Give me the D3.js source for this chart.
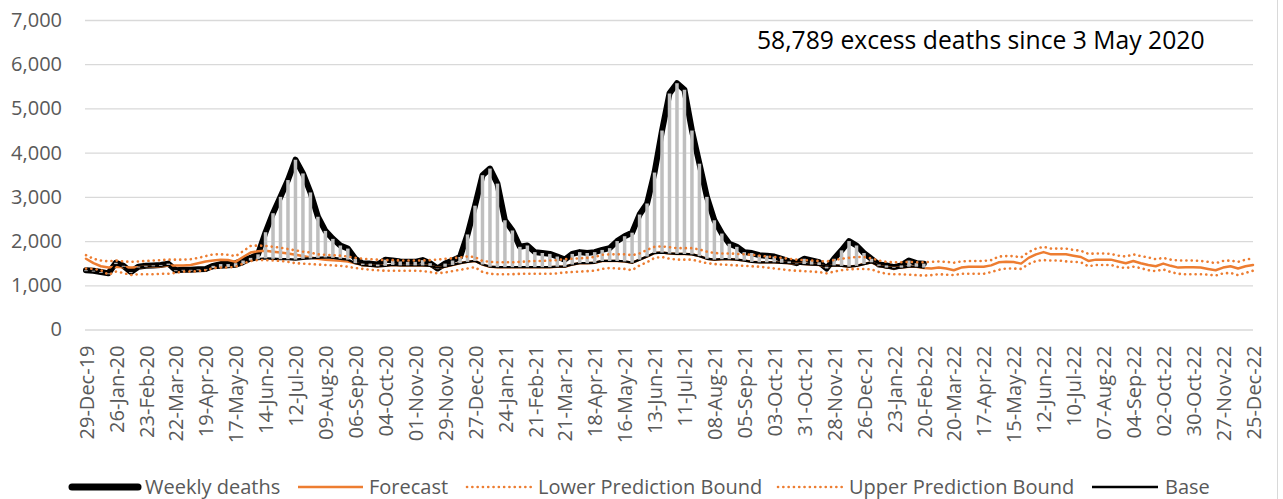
<!DOCTYPE html>
<html><head><meta charset="utf-8">
<script src="https://cdn.jsdelivr.net/npm/d3@7"></script>
<style>
html,body{margin:0;padding:0;background:#fff;}
svg{display:block;font-family:"Open Sans",sans-serif;}
</style></head><body>
<svg id="chart" width="1283" height="499"></svg>
<script>
// ---------- data ----------
const tickLabels = ["29-Dec-19","26-Jan-20","23-Feb-20","22-Mar-20","19-Apr-20","17-May-20","14-Jun-20","12-Jul-20","09-Aug-20","06-Sep-20","04-Oct-20","01-Nov-20","29-Nov-20","27-Dec-20","24-Jan-21","21-Feb-21","21-Mar-21","18-Apr-21","16-May-21","13-Jun-21","11-Jul-21","08-Aug-21","05-Sep-21","03-Oct-21","31-Oct-21","28-Nov-21","26-Dec-21","23-Jan-22","20-Feb-22","20-Mar-22","17-Apr-22","15-May-22","12-Jun-22","10-Jul-22","07-Aug-22","04-Sep-22","02-Oct-22","30-Oct-22","27-Nov-22","25-Dec-22"];
const yTicks = [0,1000,2000,3000,4000,5000,6000,7000];

const weeklyDeaths = [
 1340,1330,1300,1270,1510,1440,1300,1420,1440,1450,
 1460,1490,1340,1350,1350,1360,1370,1440,1480,1480,
 1500,1560,1620,1700,2200,2630,3000,3380,3840,3530,
 3100,2550,2230,2050,1900,1830,1600,1490,1490,1470,
 1580,1560,1540,1530,1530,1570,1500,1380,1490,1560,
 1640,2150,2800,3490,3640,3300,2470,2240,1870,1900,
 1750,1730,1710,1650,1580,1710,1750,1730,1750,1800,
 1840,2000,2110,2190,2600,2850,3550,4500,5340,5570,
 5420,4500,3750,3000,2470,2170,1940,1870,1750,1730,
 1680,1670,1650,1600,1540,1500,1600,1560,1520,1380,
 1600,1790,2000,1900,1730,1600,1470,1450,1410,1450,
 1560,1500,1490];

const base = [
 1320,1310,1280,1250,1480,1420,1280,1400,1420,1430,
 1440,1460,1320,1330,1330,1340,1350,1390,1400,1410,
 1420,1480,1560,1590,1610,1600,1590,1590,1580,1600,
 1610,1620,1630,1620,1600,1580,1500,1460,1440,1430,
 1440,1460,1450,1450,1450,1450,1440,1390,1420,1460,
 1500,1530,1550,1470,1420,1410,1410,1410,1410,1410,
 1410,1410,1410,1420,1420,1470,1500,1500,1510,1550,
 1550,1550,1540,1510,1580,1650,1730,1740,1720,1710,
 1710,1700,1660,1600,1580,1590,1590,1580,1560,1530,
 1520,1520,1520,1510,1500,1490,1480,1470,1460,1420,
 1450,1440,1420,1440,1480,1520,1440,1400,1390,1400,
 1420,1420,1400];

const forecast = [
 1600,1500,1430,1400,1420,1410,1400,1410,1420,1420,
 1430,1440,1450,1450,1460,1500,1540,1560,1580,1570,
 1530,1640,1740,1770,1780,1760,1740,1720,1690,1660,
 1630,1600,1580,1565,1555,1535,1500,1460,1440,1430,
 1440,1460,1450,1450,1450,1450,1440,1390,1420,1460,
 1500,1530,1550,1470,1420,1410,1410,1410,1410,1410,
 1410,1410,1410,1420,1420,1470,1500,1500,1510,1550,
 1550,1550,1540,1510,1580,1650,1730,1740,1720,1710,
 1710,1700,1660,1600,1580,1590,1590,1580,1560,1530,
 1520,1520,1520,1510,1500,1490,1480,1470,1460,1420,
 1450,1440,1420,1440,1480,1520,1440,1400,1390,1400,
 1420,1420,1390,1380,1400,1380,1340,1400,1420,1420,
 1420,1450,1520,1530,1525,1490,1620,1700,1750,1700,
 1700,1700,1670,1640,1550,1580,1580,1580,1540,1500,
 1550,1500,1460,1430,1490,1440,1400,1410,1410,1400,
 1370,1340,1400,1430,1380,1430,1460];

const lowerBound = [
 1380,1370,1340,1240,1310,1280,1230,1250,1250,1250,
 1260,1260,1280,1310,1310,1320,1340,1390,1400,1400,
 1420,1490,1550,1570,1570,1560,1550,1530,1500,1490,
 1480,1470,1460,1450,1440,1420,1390,1370,1350,1340,
 1330,1330,1330,1330,1330,1320,1300,1270,1290,1320,
 1350,1380,1410,1300,1260,1250,1250,1250,1260,1260,
 1260,1260,1260,1270,1290,1300,1310,1320,1330,1370,
 1390,1380,1370,1340,1450,1520,1620,1640,1600,1580,
 1580,1580,1540,1500,1480,1470,1460,1450,1440,1430,
 1420,1400,1380,1360,1340,1330,1320,1310,1300,1270,
 1310,1340,1360,1370,1370,1360,1300,1260,1250,1250,
 1240,1230,1220,1230,1250,1240,1230,1260,1260,1260,
 1260,1300,1350,1380,1380,1370,1480,1550,1570,1560,
 1560,1540,1530,1520,1430,1460,1460,1460,1410,1390,
 1420,1390,1340,1320,1360,1300,1260,1250,1250,1250,
 1240,1220,1270,1280,1230,1280,1330];

const upperBound = [
 1680,1600,1560,1540,1560,1540,1530,1540,1550,1560,
 1570,1580,1580,1580,1590,1620,1660,1700,1700,1690,
 1660,1770,1890,1900,1890,1870,1850,1820,1790,1760,
 1740,1700,1690,1680,1670,1650,1620,1600,1590,1580,
 1570,1570,1560,1560,1560,1560,1570,1580,1600,1610,
 1630,1650,1640,1550,1530,1520,1520,1520,1530,1540,
 1550,1550,1560,1570,1590,1600,1610,1620,1640,1690,
 1700,1700,1700,1680,1720,1800,1870,1880,1860,1840,
 1840,1840,1810,1760,1730,1720,1720,1710,1700,1690,
 1670,1650,1640,1620,1600,1580,1570,1560,1550,1540,
 1570,1600,1620,1640,1640,1610,1560,1530,1520,1520,
 1530,1520,1520,1530,1540,1530,1510,1540,1550,1550,
 1550,1570,1650,1660,1660,1630,1750,1830,1870,1830,
 1830,1830,1800,1780,1710,1720,1720,1710,1670,1650,
 1700,1660,1630,1590,1620,1580,1560,1560,1560,1550,
 1530,1500,1550,1560,1530,1580,1610];

const annotation = "58,789 excess deaths since 3 May 2020";
const legendItems = [
  {label:"Weekly deaths", key:"weekly", x1:72, x2:138, tx:145},
  {label:"Forecast", key:"forecast", x1:298, x2:363, tx:369},
  {label:"Lower Prediction Bound", key:"bound", x1:467, x2:532, tx:538},
  {label:"Upper Prediction Bound", key:"bound", x1:778, x2:843, tx:849},
  {label:"Base", key:"base", x1:1092, x2:1158, tx:1165}
];

// ---------- chart ----------
const fmt = d3.timeFormat("%d-%b-%y");
const start = new Date(2019, 11, 29, 12);
const weeks = d3.range(forecast.length).map(i => fmt(d3.timeDay.offset(start, 7 * i)));

const ORANGE = "#ED7D31", GREY = "#595959";
const styles = {
  weekly:   {stroke:"#000", width:6, dash:null},
  forecast: {stroke:ORANGE, width:2.5, dash:null},
  bound:    {stroke:ORANGE, width:2.6, dash:"0.1 5.2"},
  base:     {stroke:"#000", width:2.3, dash:null}
};

const svg = d3.select("#chart");
const plotL = 85, plotR = 1253;
const x = d3.scalePoint().domain(weeks).range([86, plotR]);
const y = d3.scaleLinear().domain([0, 7000]).range([329.5, 20]);

// right border
svg.append("line").attr("x1",1277.5).attr("x2",1277.5).attr("y1",0).attr("y2",499)
  .attr("stroke","#D9D9D9").attr("stroke-width",1);

// y axis + gridlines
const gy = svg.append("g").attr("transform",`translate(${plotL},0)`)
  .call(d3.axisLeft(y).tickValues(yTicks).tickFormat(d3.format(","))
    .tickSizeInner(-(plotR - plotL)).tickSizeOuter(0).tickPadding(23));
gy.attr("font-family", null).attr("font-size", null);
gy.select(".domain").remove();
gy.selectAll(".tick line").attr("stroke","#D9D9D9").attr("stroke-width",1.3);
gy.selectAll(".tick text").attr("fill",GREY).style("font-size","20px");

// x axis
const gx = svg.append("g").attr("transform","translate(0,329.5)")
  .call(d3.axisBottom(x).tickValues(tickLabels).tickSize(0));
gx.attr("font-family", null).attr("font-size", null);
gx.select(".domain").remove();
gx.selectAll(".tick text")
  .attr("x",0).attr("y",0).attr("dy","0.36em")
  .attr("text-anchor","end")
  .attr("transform","translate(0,16) rotate(-90)")
  .attr("fill",GREY).style("font-size","20px");

const lineGen = d3.line().x((d,i) => x(weeks[i])).y(d => y(d));
function drawSeries(data, st){
  const p = svg.append("path").datum(data).attr("d", lineGen)
    .attr("fill","none").attr("stroke",st.stroke).attr("stroke-width",st.width)
    .attr("stroke-linejoin","round").attr("stroke-linecap","round");
  if (st.dash) p.attr("stroke-dasharray", st.dash);
  return p;
}

drawSeries(weeklyDeaths, styles.weekly);
drawSeries(forecast, styles.forecast);
drawSeries(base, styles.base);

// high-low lines between weekly deaths and base
svg.append("g").selectAll("line").data(weeklyDeaths).join("line")
  .attr("x1",(d,i)=>x(weeks[i])).attr("x2",(d,i)=>x(weeks[i]))
  .attr("y1",d=>y(d)).attr("y2",(d,i)=>y(base[i]))
  .attr("stroke","#BFBFBF").attr("stroke-width",3.5);

drawSeries(lowerBound, styles.bound);
drawSeries(upperBound, styles.bound);

// annotation
svg.append("text").attr("x",757).attr("y",49).attr("fill","#000")
  .style("font-size","24.7px").text(annotation);

// legend
const lg = svg.append("g");
legendItems.forEach(it => {
  const st = styles[it.key];
  const l = lg.append("line").attr("x1",it.x1).attr("x2",it.x2).attr("y1",487).attr("y2",487)
    .attr("stroke",st.stroke).attr("stroke-width", it.key==="weekly" ? 7 : st.width)
    .attr("stroke-linecap", it.key==="weekly" ? "round" : "butt");
  if (st.dash) l.attr("stroke-dasharray", st.dash).attr("stroke-linecap","round");
  lg.append("text").attr("x",it.tx).attr("y",487).attr("dy","0.35em")
    .attr("fill",GREY).style("font-size","20px").text(it.label);
});
</script>
</body></html>
